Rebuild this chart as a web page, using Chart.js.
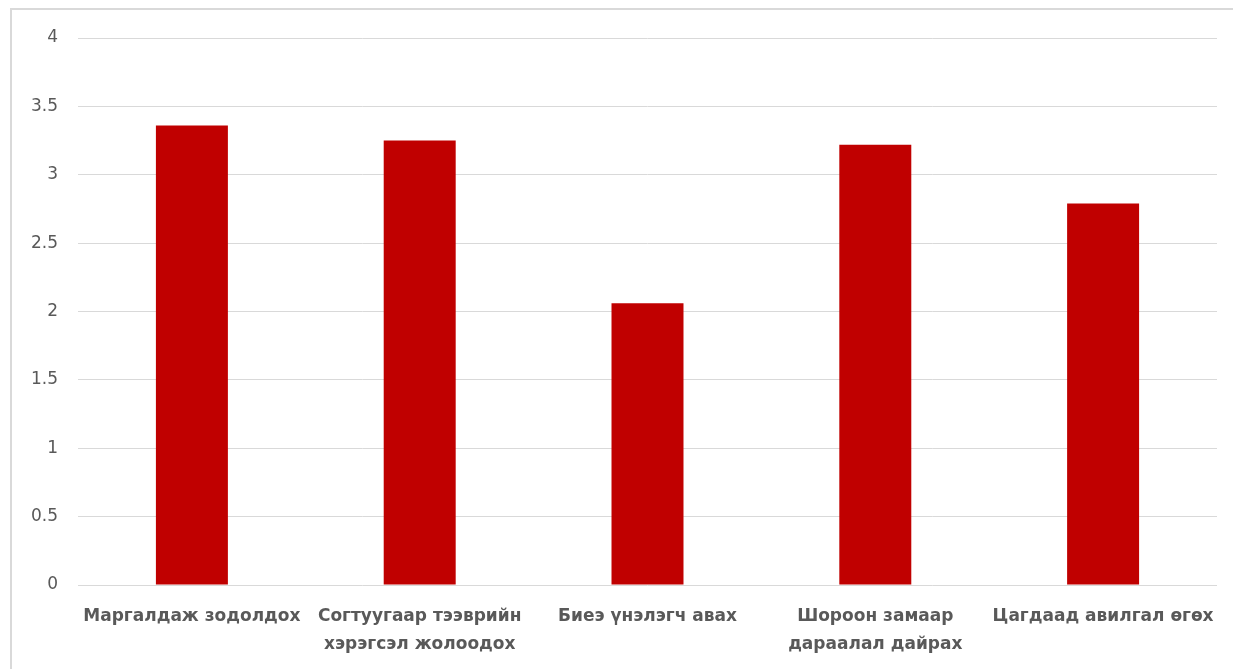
<!DOCTYPE html>
<html>
<head>
<meta charset="utf-8">
<script src="https://cdn.jsdelivr.net/npm/chart.js@4.4.0/dist/chart.umd.min.js"></script>
<style>
  html, body { margin: 0; padding: 0; background: #fff; overflow: hidden; }
  #wrap {
    position: absolute; left: 10px; top: 8px;
    width: 1223px; height: 661px;
    border-left: 2px solid #d9d9d9; border-top: 2px solid #d9d9d9;
  }
  #wrap canvas { display: block; }
</style>
</head>
<body>
<div id="wrap"><canvas id="chart" width="1221" height="659"></canvas></div>
<script>
// categories + values
let labels = [
  'Маргалдаж зодолдох',
  ['Согтуугаар тээврийн', 'хэрэгсэл жолоодох'],
  'Биеэ үнэлэгч авах',
  ['Шороон замаар', 'дараалал дайрах'],
  'Цагдаад авилгал өгөх'
];
let values = [3.36, 3.25, 2.06, 3.22, 2.79];
let yTicks = [0, 0.5, 1, 1.5, 2, 2.5, 3, 3.5, 4];

const barColor = '#c00000';
const textColor = '#595959';
const gridColor = '#d9d9d9';

let ctx = document.getElementById('chart');
let myChart = new Chart(ctx, {
  type: 'bar',
  data: {
    labels: labels,
    datasets: [
      {
        label: 'values',
        backgroundColor: barColor,
        borderWidth: 0,
        data: values
      }
    ]
  },
  options: {
    responsive: false,
    animation: false,
    layout: {
      padding: { top: 28, right: 16, bottom: 0, left: 0 }
    },
    plugins: {
      legend: { display: false },
      tooltip: { enabled: false }
    },
    datasets: {
      bar: { categoryPercentage: 1, barPercentage: 0.316 }
    },
    scales: {
      x: {
        grid: { display: false },
        border: { display: false },
        ticks: {
          color: textColor,
          padding: 10,
          maxRotation: 0,
          autoSkip: false,
          font: { family: 'DejaVu Sans', size: 17, weight: 'bold', lineHeight: 1.62 }
        },
        afterFit: function (axis) {
          axis.height = 84;
          axis.paddingLeft = 0;
          axis.paddingRight = 0;
        }
      },
      y: {
        min: 0,
        max: 4,
        afterBuildTicks: function (axis) {
          axis.ticks = yTicks.map(v => ({ value: v }));
        },
        grid: { color: gridColor, lineWidth: 1, drawTicks: false },
        border: { display: false },
        ticks: {
          color: textColor,
          padding: 20,
          font: { family: 'DejaVu Sans', size: 17 },
          callback: function (v) { return String(v); }
        },
        afterFit: function (axis) {
          axis.width = 66;
          axis.paddingTop = 0;
          axis.paddingBottom = 0;
        }
      }
    }
  }
});
</script>
</body>
</html>
